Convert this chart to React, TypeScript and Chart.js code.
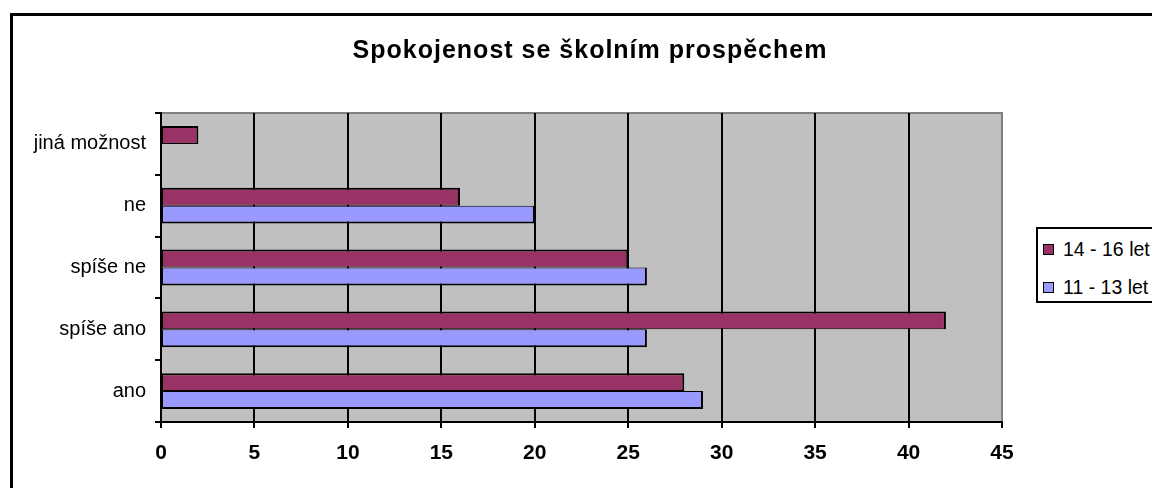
import React, { useEffect, useRef } from 'react';
import { Chart, registerables } from 'chart.js';

Chart.register(...registerables);

const titleText = 'Spokojenost se školním prospěchem';
const categories = ['jiná možnost', 'ne', 'spíše ne', 'spíše ano', 'ano'];
const seriesNames = ['14 - 16 let', '11 - 13 let'];
const olderValues = [2, 16, 25, 42, 28];
const youngerValues = [0, 20, 26, 26, 29];
const seriesColors = ['#993366', '#9999FF'];
const xMin = 0;
const xMax = 45;
const xStep = 5;

const FONT = "'Liberation Sans', Arial, Helvetica, sans-serif";

const plotBackground = {
  id: 'plotBackground',
  beforeDraw(chart: any) {
    const { ctx, chartArea } = chart;
    const { left, top, right, bottom } = chartArea;
    ctx.save();
    ctx.fillStyle = '#C0C0C0';
    ctx.fillRect(left, top, right - left, bottom - top);
    ctx.strokeStyle = '#808080';
    ctx.lineWidth = 2;
    ctx.beginPath();
    ctx.moveTo(left, top);
    ctx.lineTo(right, top);
    ctx.lineTo(right, bottom);
    ctx.stroke();
    ctx.restore();
  },
};

const centeredTitle = {
  id: 'centeredTitle',
  afterDraw(chart: any) {
    const { ctx, width } = chart;
    ctx.save();
    ctx.fillStyle = '#000000';
    ctx.font = `bold 25px ${FONT}`;
    try {
      (ctx as any).letterSpacing = '1px';
    } catch (e) {}
    ctx.textAlign = 'center';
    ctx.textBaseline = 'alphabetic';
    ctx.fillText(titleText, width / 2, 42);
    ctx.restore();
  },
};

function ChartCanvas() {
  const ref = useRef<HTMLCanvasElement | null>(null);
  useEffect(() => {
    if (!ref.current) return;
    const chart = new Chart(ref.current, {
      type: 'bar',
      data: {
        labels: categories,
        datasets: [
          {
            label: seriesNames[0],
            data: olderValues,
            backgroundColor: seriesColors[0],
            borderColor: '#000000',
            borderWidth: { top: 2, right: 2, bottom: 1, left: 1 },
            borderSkipped: false,
            barPercentage: 1,
            categoryPercentage: 0.58,
          },
          {
            label: seriesNames[1],
            data: youngerValues,
            backgroundColor: seriesColors[1],
            borderColor: '#000000',
            borderWidth: { top: 1, right: 2, bottom: 2, left: 1 },
            borderSkipped: false,
            barPercentage: 1,
            categoryPercentage: 0.58,
          },
        ],
      },
      options: {
        indexAxis: 'y',
        responsive: false,
        animation: false,
        devicePixelRatio: 1,
        layout: { padding: { left: 0, right: 165, top: 97, bottom: 0 } },
        plugins: {
          legend: { display: false },
          tooltip: { enabled: false },
          title: { display: false },
        },
        scales: {
          x: {
            type: 'linear',
            min: xMin,
            max: xMax,
            ticks: {
              stepSize: xStep,
              color: '#000000',
              font: { family: FONT, size: 21, weight: 'bold' },
              padding: 13,
            },
            grid: {
              color: (c: any) => (c.tick && c.tick.value === xMax ? '#808080' : '#000000'),
              lineWidth: 2,
              tickLength: 6,
              tickColor: '#000000',
              drawTicks: true,
            },
            border: { color: '#000000', width: 2 },
            afterFit(s: any) {
              s.height = 66;
            },
          },
          y: {
            type: 'category',
            ticks: {
              color: '#000000',
              font: { family: FONT, size: 20 },
              padding: 9,
            },
            grid: {
              offset: true,
              drawOnChartArea: false,
              color: '#000000',
              lineWidth: 2,
              tickLength: 6,
            },
            border: { color: '#000000', width: 2 },
            afterFit(s: any) {
              s.width = 148;
            },
          },
        },
      },
      plugins: [plotBackground, centeredTitle],
    } as any);
    return () => chart.destroy();
  }, []);
  return <canvas ref={ref} width={1154} height={472} style={{ display: 'block', width: 1154, height: 472 }} />;
}

export default function App() {
  return (
    <div
      style={{
        position: 'fixed',
        left: 0,
        top: 0,
        width: 1152,
        height: 488,
        overflow: 'hidden',
        background: '#ffffff',
        fontFamily: FONT,
      }}
    >
      <div
        style={{
          position: 'absolute',
          left: 10,
          top: 13,
          width: 1154,
          height: 472,
          border: '3px solid #000000',
          background: '#ffffff',
        }}
      >
        <ChartCanvas />
      </div>
      <div
        style={{
          position: 'absolute',
          left: 1036,
          top: 227,
          width: 140,
          height: 72,
          border: '2px solid #000000',
          background: '#ffffff',
        }}
      >
        {seriesNames.map((name, i) => (
          <div
            key={name}
            style={{
              position: 'absolute',
              left: 5,
              top: 9 + i * 38,
              height: 22,
              display: 'flex',
              alignItems: 'center',
              whiteSpace: 'nowrap',
              fontSize: 19.5,
              color: '#000000',
            }}
          >
            <span
              style={{
                display: 'inline-block',
                width: 9,
                height: 9,
                border: '1px solid #000000',
                background: seriesColors[i],
                marginRight: 9,
              }}
            />
            <span>{name}</span>
          </div>
        ))}
      </div>
    </div>
  );
}
